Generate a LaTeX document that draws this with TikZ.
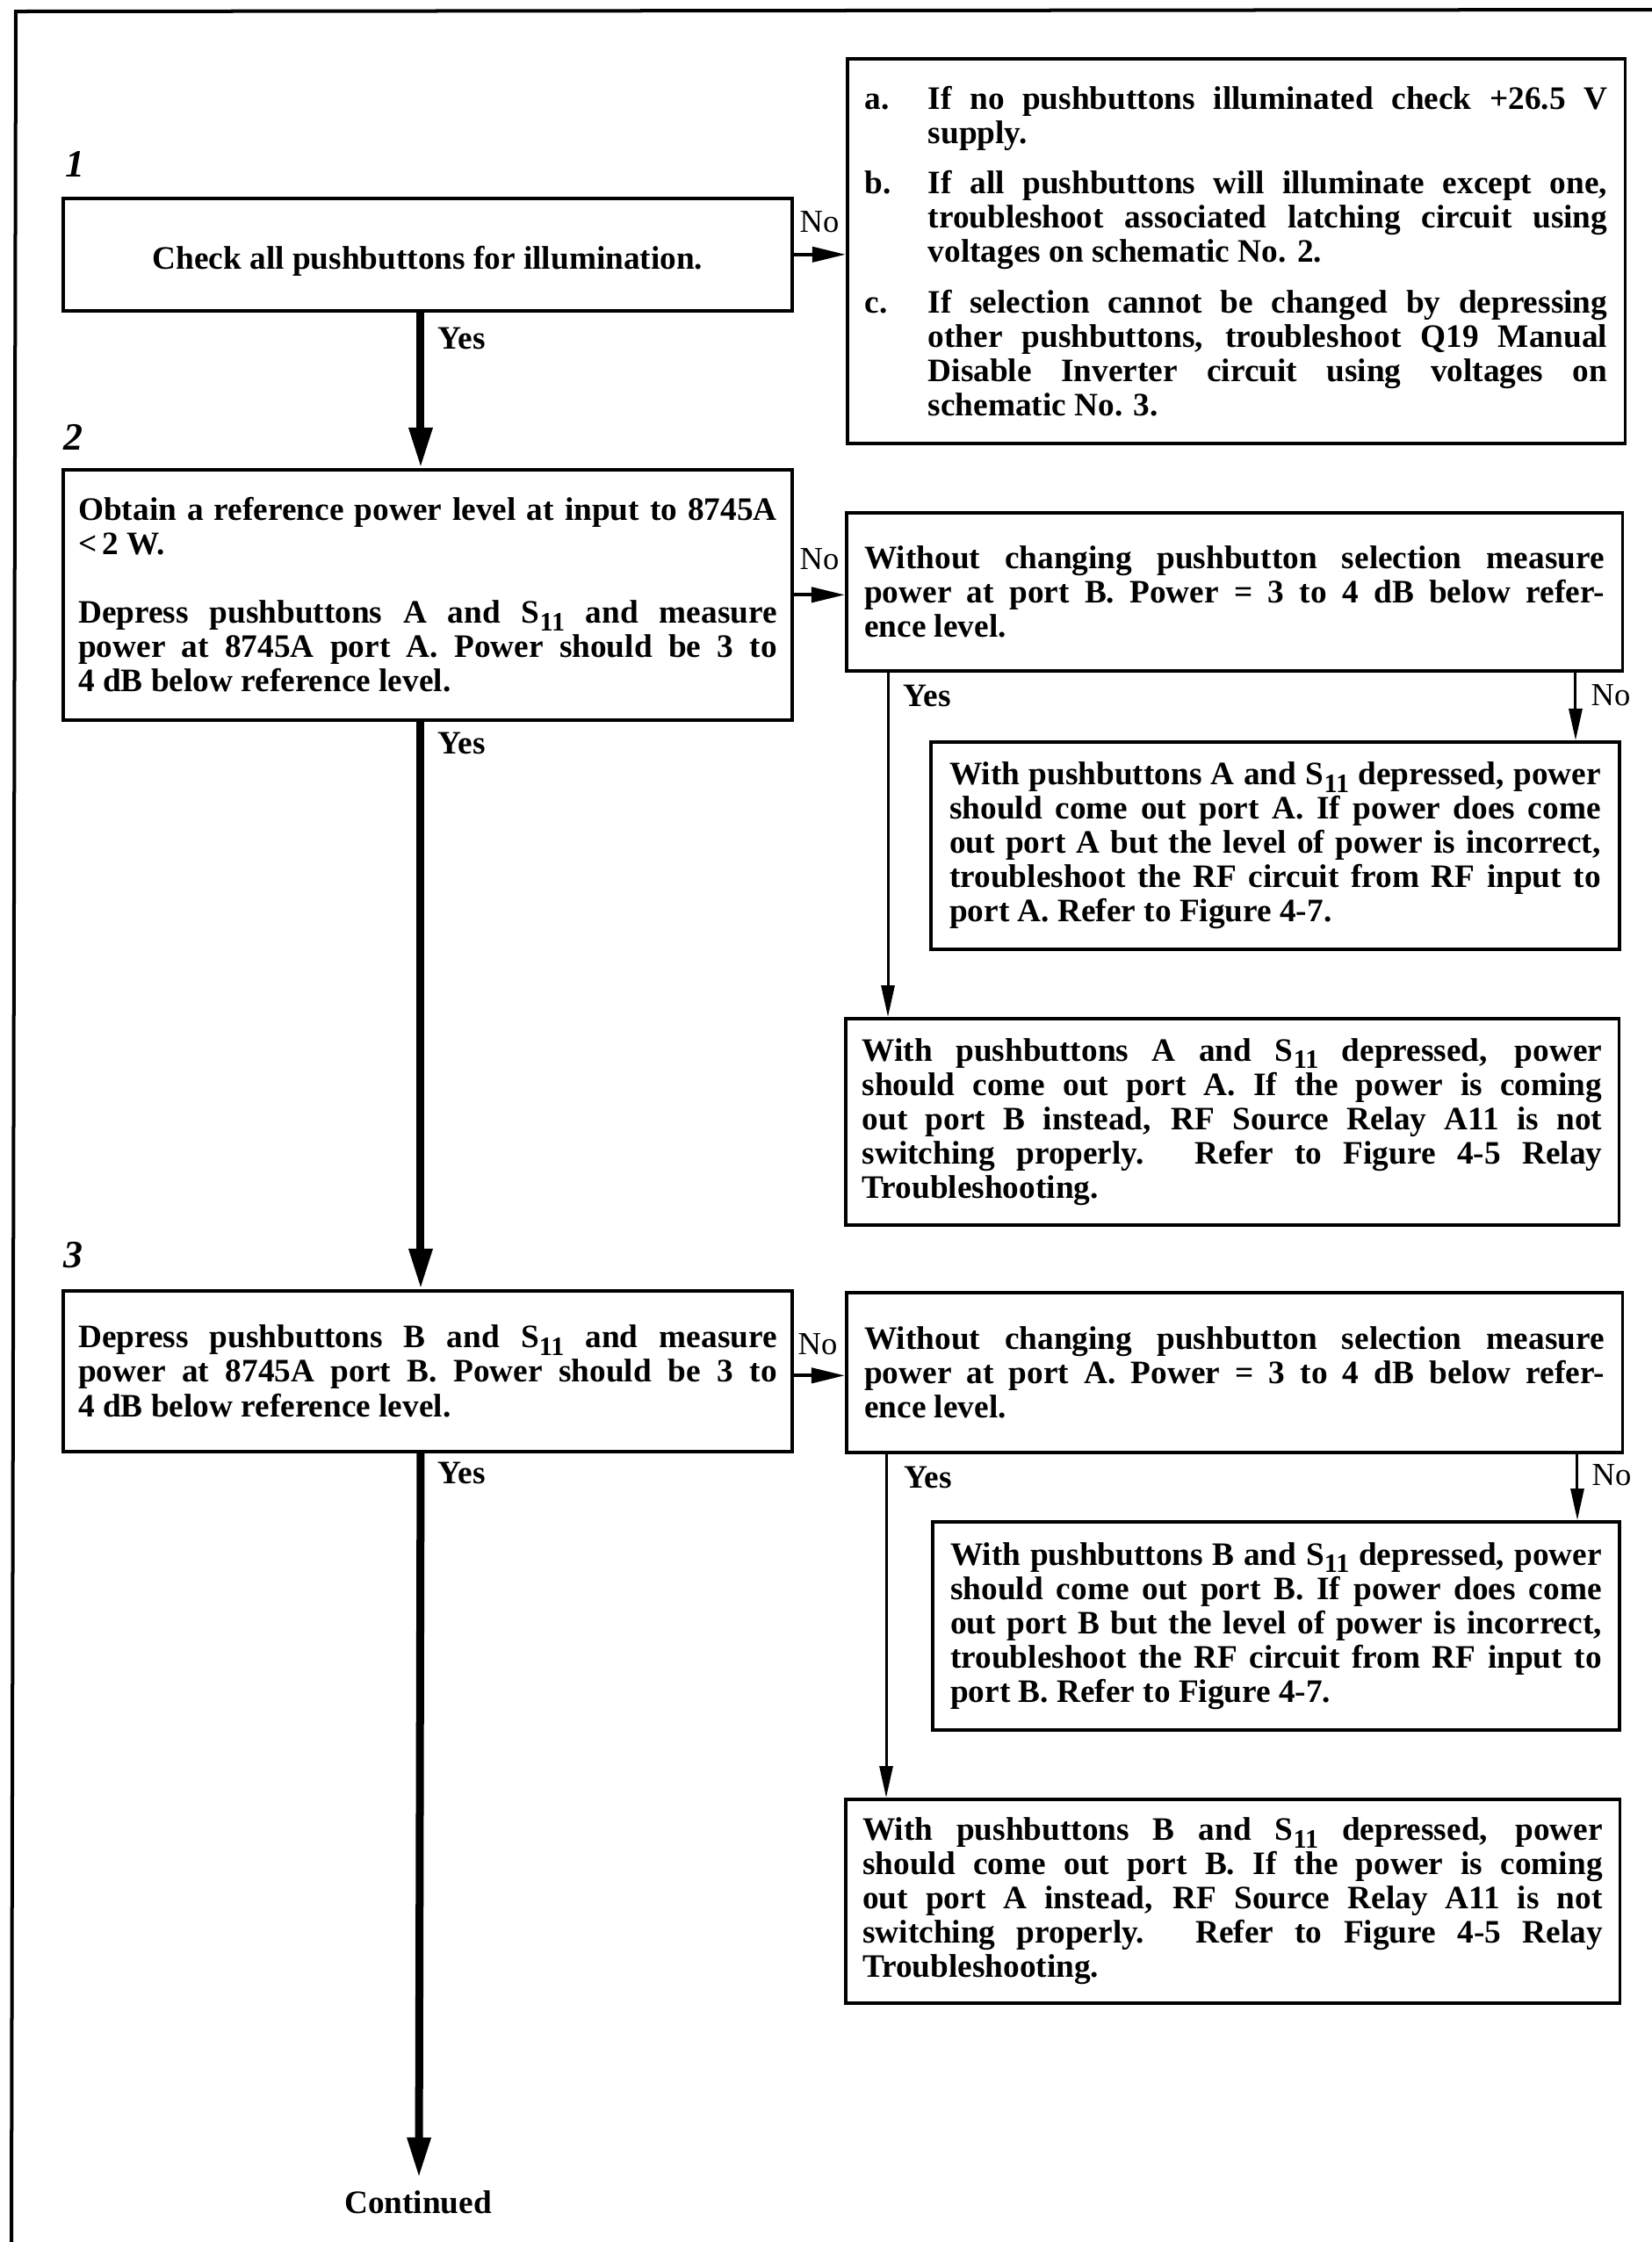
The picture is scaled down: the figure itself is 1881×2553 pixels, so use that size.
\documentclass[tikz,border=0pt]{standalone}
\usepackage{fontspec}
\setmainfont{Liberation Serif}
\usetikzlibrary{arrows.meta}
\newcommand{\Sxi}{S\raisebox{-0.5ex}{\fontsize{8.6}{8.6}\selectfont 11}}
\newcommand{\bodyfont}{\bfseries\fontsize{10.6}{11.1}\selectfont}
\newcommand{\itm}[1]{\hangindent=7.2mm\hangafter=1\noindent\makebox[7.2mm][l]{#1}}
\begin{document}
\begin{tikzpicture}[x=0.01cm,y=-0.01cm,
  box/.style={draw, line width=0.35mm, anchor=north west, align=justify,
    inner ysep=0pt, font=\bodyfont,
    execute at begin node={\tolerance=10000\hyphenpenalty=10000\parindent=0pt\parskip=0pt\emergencystretch=2em}},
  mainarrow/.style={line width=0.9mm, -{Triangle[length=4.6mm,width=2.5mm]}},
  noarrow/.style={line width=0.4mm, -{Triangle[length=3.8mm,width=1.7mm]}},
  thinarrow/.style={line width=0.3mm, -{Triangle[length=3.6mm,width=1.5mm]}},
  yeslabel/.style={inner sep=0pt, anchor=west, font=\bfseries\fontsize{10.6}{11}\selectfont},
  nolabel/.style={inner sep=0pt, font=\fontsize{10.4}{11}\selectfont},
  steplabel/.style={inner sep=0pt, font=\bfseries\itshape\fontsize{12.5}{13}\selectfont}]
\useasboundingbox (0,0) rectangle (1881,2553);
% frame
\draw[line width=0.4mm] (13,2553) -- (18,13) -- (1881,11);

% step numbers
\node[steplabel] (n1) at (85,187) {1};
\node[steplabel] (n2) at (83,498) {2};
\node[steplabel] (n3) at (83,1429) {3};

% left column
\node[box, minimum width=83mm, minimum height=12.8mm, align=center,
      text height=4.2mm, text depth=0.8mm] (b1) at (70,224)
  {Check all pushbuttons for illumination.};

\node[box, minimum width=83mm, minimum height=28.5mm, text width=79.5mm, inner xsep=1.75mm] (b2) at (70,533)
  {Obtain a reference power level at input to 8745A\linebreak {<}\,2 W.\par
   \vspace{11.1pt}
   Depress pushbuttons A and \Sxi{} and measure\linebreak
   power at 8745A port A.  Power should be 3 to\linebreak
   4 dB below reference level.};

\node[box, minimum width=83mm, minimum height=18.3mm, text width=79.5mm, inner xsep=1.75mm] (b3) at (70,1468)
  {Depress pushbuttons B and \Sxi{} and measure\linebreak
   power at 8745A port B.  Power should be 3 to\linebreak
   4 dB below reference level.};

% right column
\node[box, minimum width=88.5mm, minimum height=43.8mm, text width=84.5mm, inner xsep=2mm] (b1r) at (963,65)
  {\itm{a.}If no pushbuttons illuminated check +26.5 V\linebreak supply.\par
   \vspace{1.85mm}%
   \itm{b.}If all pushbuttons will illuminate except one,\linebreak
   troubleshoot associated latching circuit using\linebreak
   voltages on schematic No. 2.\par
   \vspace{1.85mm}%
   \itm{c.}If selection cannot be changed by depressing\linebreak
   other pushbuttons, troubleshoot Q19 Manual\linebreak
   Disable Inverter circuit using voltages on\linebreak
   schematic No. 3.\par};

\node[box, minimum width=88.3mm, minimum height=18mm, text width=84.2mm, inner xsep=2.05mm] (b2a) at (962,582)
  {Without changing pushbutton selection measure\linebreak
   power at port B.  Power = 3 to 4 dB below refer-\linebreak
   ence level.};

\node[box, minimum width=78.4mm, minimum height=23.6mm, text width=74.1mm, inner xsep=2.15mm] (b2b) at (1058,843)
  {With pushbuttons A and \Sxi{} depressed, power\linebreak
   should come out port A.  If power does come\linebreak
   out port A but the level of power is incorrect,\linebreak
   troubleshoot the RF circuit from RF input to\linebreak
   port A.  Refer to Figure 4-7.};

\node[box, minimum width=88mm, minimum height=23.5mm, text width=84.2mm, inner xsep=1.9mm] (b2c) at (961,1158)
  {With pushbuttons A and \Sxi{} depressed, power\linebreak
   should come out port A.  If the power is coming\linebreak
   out port B instead, RF Source Relay A11 is not\linebreak
   switching properly.  Refer to Figure 4-5 Relay\linebreak
   Troubleshooting.};

\node[box, minimum width=88.3mm, minimum height=18.2mm, text width=84.2mm, inner xsep=2.05mm] (b3a) at (962,1470)
  {Without changing pushbutton selection measure\linebreak
   power at port A.  Power = 3 to 4 dB below refer-\linebreak
   ence level.};

\node[box, minimum width=78.2mm, minimum height=23.7mm, text width=74.1mm, inner xsep=2.05mm] (b3b) at (1060,1731)
  {With pushbuttons B and \Sxi{} depressed, power\linebreak
   should come out port B.  If power does come\linebreak
   out port B but the level of power is incorrect,\linebreak
   troubleshoot the RF circuit from RF input to\linebreak
   port B.  Refer to Figure 4-7.};

\node[box, minimum width=88.1mm, minimum height=23.2mm, text width=84.2mm, inner xsep=1.95mm] (b3c) at (961,2047)
  {With pushbuttons B and \Sxi{} depressed, power\linebreak
   should come out port B.  If the power is coming\linebreak
   out port A instead, RF Source Relay A11 is not\linebreak
   switching properly.  Refer to Figure 4-5 Relay\linebreak
   Troubleshooting.};

% main flow
\draw[mainarrow] ([xshift=-0.8mm]b1.south) -- ([xshift=-0.8mm]b2.north);
\draw[mainarrow] ([xshift=-0.8mm]b2.south) -- ([xshift=-0.8mm]b3.north);
\coordinate (contend) at (477,2480);
\draw[mainarrow] ([xshift=-0.8mm]b3.south) -- (contend);
\node[inner sep=0pt, font=\bfseries\fontsize{10.6}{11}\selectfont] (cont) at (476,2508) {Continued};

% No branches to the right
\draw[noarrow] (b1.east) -- (b1.east -| b1r.west);
\draw[noarrow] (b2.east) -- (b2.east -| b2a.west);
\draw[noarrow] ([yshift=-0.5mm]b3.east) -- ([yshift=-0.5mm]b3.east -| b3a.west);

% sub branches
\draw[thinarrow] ([xshift=4.9mm]b2a.south west) -- ([xshift=4.9mm]b2a.south west |- b2c.north);
\draw[thinarrow] ([xshift=-5.5mm]b2a.south east) -- ([xshift=-5.5mm]b2a.south east |- b2b.north);
\draw[thinarrow] ([xshift=4.7mm]b3a.south west) -- ([xshift=4.7mm]b3a.south west |- b3c.north);
\draw[thinarrow] ([xshift=-5.3mm]b3a.south east) -- ([xshift=-5.3mm]b3a.south east |- b3b.north);

% labels
\node[yeslabel] (y1) at (498,385) {Yes};
\node[yeslabel] (y2) at (498,846) {Yes};
\node[yeslabel] (y3) at (498,1677) {Yes};
\node[yeslabel] (y2a) at (1028,792) {Yes};
\node[yeslabel] (y3a) at (1029,1682) {Yes};
\node[nolabel] (no1) at (933,253) {No};
\node[nolabel] (no2) at (933,637) {No};
\node[nolabel] (no3) at (931,1531) {No};
\node[nolabel, anchor=west] (no2a) at (1811,792) {No};
\node[nolabel, anchor=west] (no3a) at (1812,1680) {No};
\end{tikzpicture}
\end{document}
